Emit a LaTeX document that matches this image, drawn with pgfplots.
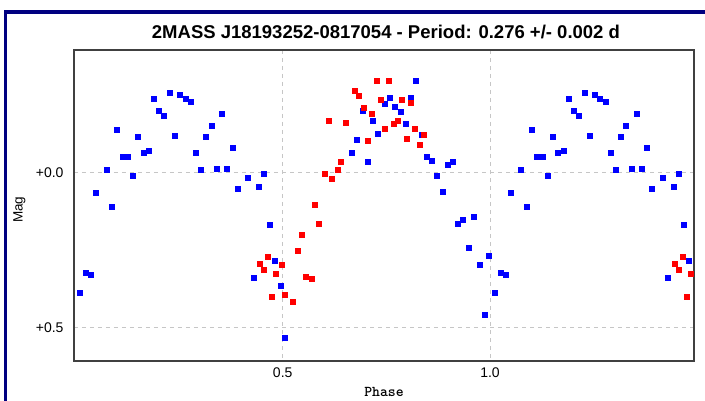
\documentclass[border=0pt]{standalone}
\usepackage{pgfplots}
\usepackage{pgfplotstable}
\pgfplotsset{compat=1.18}
\usepackage{fontspec}
\setmainfont{Liberation Sans}

\definecolor{frameblue}{RGB}{0,0,128}
\definecolor{ptblue}{RGB}{0,0,255}
\definecolor{ptred}{RGB}{255,0,0}

% phase, mag -- blue series
\pgfplotstableread{
phase mag
0.0111 0.389
0.0248 0.322
0.0376 0.331
0.0497 0.065
0.0745 -0.011
0.0876 0.110
0.1003 -0.139
0.1131 -0.052
0.1261 -0.052
0.1382 0.011
0.1510 -0.115
0.1638 -0.065
0.1768 -0.072
0.1896 -0.239
0.2016 -0.202
0.2137 -0.184
0.2274 -0.260
0.2402 -0.119
0.2523 -0.252
0.2651 -0.239
0.2781 -0.231
0.2902 -0.065
0.3029 -0.010
0.3150 -0.115
0.3278 -0.152
0.3408 -0.014
0.3529 -0.190
0.3657 -0.014
0.3784 -0.081
0.3905 0.052
0.4156 0.015
0.4291 0.340
0.4421 0.044
0.4542 0.003
0.4677 0.168
0.4797 0.286
0.4942 0.364
0.5043 0.535
0.6664 -0.065
0.6792 -0.106
0.6920 -0.202
0.7050 -0.036
0.7178 -0.168
0.7299 -0.127
0.7467 -0.222
0.7588 -0.244
0.7709 -0.215
0.7846 -0.197
0.7967 -0.157
0.8087 -0.244
0.8215 -0.297
0.8360 -0.123
0.8464 -0.052
0.8594 -0.040
0.8722 0.011
0.8849 0.060
0.8980 -0.027
0.9108 -0.036
0.9228 0.165
0.9349 0.151
0.9486 0.244
0.9614 0.143
0.9742 0.297
0.9863 0.460
0.9976 0.268
}\bluedata

% phase, mag -- red series
\pgfplotstableread{
phase mag
0.4452 0.293
0.4549 0.315
0.4645 0.273
0.4742 0.402
0.4831 0.327
0.4966 0.297
0.5055 0.393
0.5248 0.418
0.5369 0.252
0.5465 0.201
0.5562 0.335
0.5690 0.344
0.5779 0.102
0.5876 0.165
0.6003 0.002
0.6100 -0.168
0.6189 0.018
0.6317 -0.011
0.6406 -0.036
0.6510 -0.161
0.6727 -0.264
0.6823 -0.248
0.6954 -0.210
0.7050 -0.103
0.7147 -0.190
0.7274 -0.297
0.7364 -0.235
0.7467 -0.144
0.7557 -0.297
0.7684 -0.157
0.7774 -0.168
0.7877 -0.235
0.7991 -0.110
0.8094 -0.226
0.8184 -0.144
0.8312 -0.090
0.8408 -0.123
}\reddata

\begin{document}
\begin{tikzpicture}
\begin{axis}[
  at={(0,0)}, anchor=south west,
  scale only axis,
  width=620pt, height=311pt,
  xmin=-0.0034, xmax=1.492,
  ymin=-0.397, ymax=0.609,
  y dir=reverse,
  xtick={0.5,1.0}, xticklabels={0.5,1.0},
  ytick={0,0.5}, yticklabels={+0.0,+0.5},
  major tick length=0pt,
  /pgf/number format/assume math mode=true,
  tick label style={font=\fontsize{14}{16}\selectfont},
  xticklabel style={yshift=-3pt},
  yticklabel style={xshift=-7pt},
  grid=major,
  major grid style={gray!45, line width=1pt, dash pattern=on 4pt off 4pt},
  axis line style={black!75, line width=1.2pt},
  xlabel={Phase},
  xlabel style={font=\ttfamily\bfseries\fontsize{15}{16}\selectfont, at={(axis description cs:0.5,0)}, anchor=center, yshift=-31pt},
  ylabel={Mag},
  ylabel style={font=\fontsize{13.5}{16}\selectfont, at={(axis description cs:-0.088,0.486)}, anchor=center},
  title={2MASS J18193252-0817054 - Period: 0.276 +/- 0.002 d},
  title style={font=\bfseries\fontsize{18.5}{20}\selectfont, at={(axis description cs:0.5,1)}, anchor=center, yshift=12pt, xshift=2pt},
  clip=true,
]
\addplot[only marks, mark=square*, mark size=2.5pt, draw=ptblue, fill=ptblue] table[x=phase, y=mag] {\bluedata};
\addplot[only marks, mark=square*, mark size=2.5pt, draw=ptred, fill=ptred] table[x=phase, y=mag] {\reddata};
\addplot[only marks, mark=square*, mark size=2.5pt, draw=ptblue, fill=ptblue] table[x expr=\thisrow{phase}+1, y=mag] {\bluedata};
\addplot[only marks, mark=square*, mark size=2.5pt, draw=ptred, fill=ptred] table[x expr=\thisrow{phase}+1, y=mag] {\reddata};
\end{axis}
% outer window frame
\draw[frameblue, line width=3.5pt] (-68.5pt,-45pt) -- (-68.5pt,349pt) -- (640pt,349pt);
\pgfresetboundingbox
\useasboundingbox (-74pt,-40pt) rectangle (631pt,361pt);
\end{tikzpicture}
\end{document}
